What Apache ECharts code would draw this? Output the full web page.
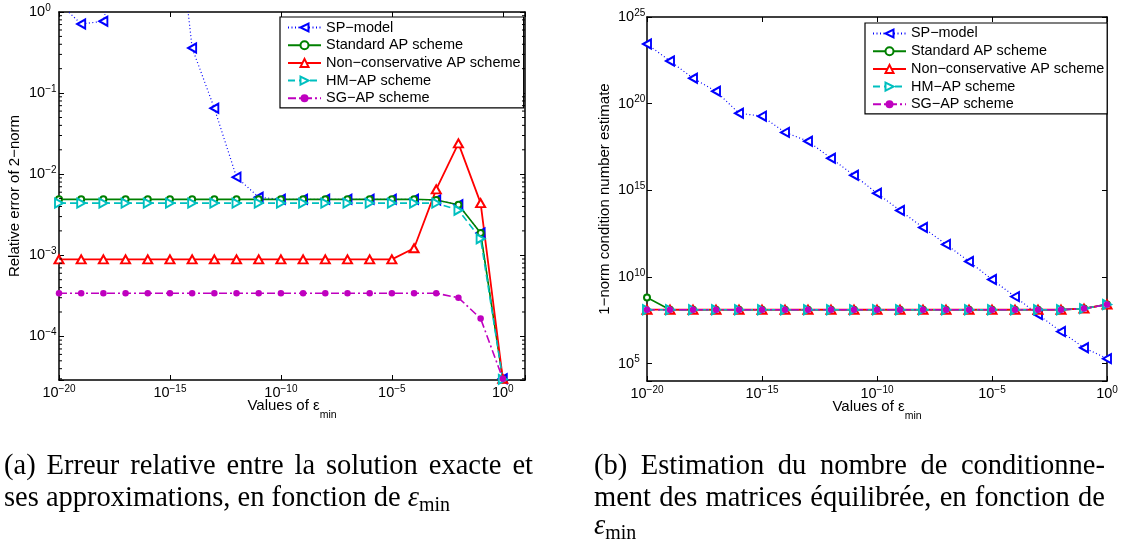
<!DOCTYPE html>
<html><head><meta charset="utf-8">
<script src="https://cdn.jsdelivr.net/npm/echarts@6/dist/echarts.min.js"></script>
<style>
html,body{margin:0;padding:0;background:#fff;}
#chart{position:absolute;left:0;top:0;width:1124px;height:540px;}
.cap{position:absolute;font-family:"Liberation Serif",serif;font-size:28.5px;line-height:32px;color:#000;}
.cap div{white-space:nowrap;text-align:justify;text-align-last:justify;}
.cap div.last{text-align:left;text-align-last:left;}
.cap sub{font-size:0.7em;vertical-align:-0.25em;line-height:0;}
</style></head><body>
<div id="chart"></div>
<div class="cap" style="left:4px;top:449px;width:529px;">
  <div>(a) Erreur relative entre la solution exacte et</div>
  <div class="last">ses approximations, en fonction de <i>ε</i><sub>min</sub></div>
</div>
<div class="cap" style="left:594px;top:449px;width:511px;">
  <div>(b) Estimation du nombre de conditionne-</div>
  <div>ment des matrices équilibrée, en fonction de</div>
  <div class="last" style="margin-top:-4px"><i>ε</i><sub>min</sub></div>
</div>
<script>
// ---- data ----
const xValues = [1e-20,1e-19,1e-18,1e-17,1e-16,1e-15,1e-14,1e-13,1e-12,1e-11,1e-10,1e-9,1e-8,1e-7,1e-6,1e-5,1e-4,1e-3,1e-2,1e-1,1];
const seriesNames = ['SP\u2212model','Standard AP scheme','Non\u2212conservative AP scheme','HM\u2212AP scheme','SG\u2212AP scheme'];
// (a) relative error of 2-norm
const errSP  = [1.3,0.71,0.77,13,50,100,0.36,0.065,0.0092,0.0052,0.0049,0.0049,0.0049,0.0049,0.0049,0.0049,0.0049,0.0048,0.0042,0.00188,3.0e-5];
const errStd = [0.0049,0.0049,0.0049,0.0049,0.0049,0.0049,0.0049,0.0049,0.0049,0.0049,0.0049,0.0049,0.0049,0.0049,0.0049,0.0049,0.0049,0.0048,0.0042,0.00188,2.95e-5];
const errNC  = [0.00089,0.00089,0.00089,0.00089,0.00089,0.00089,0.00089,0.00089,0.00089,0.00089,0.00089,0.00089,0.00089,0.00089,0.00089,0.00089,0.00122,0.0065,0.024,0.0044,3.0e-5];
const errHM  = [0.0044,0.0044,0.0044,0.0044,0.0044,0.0044,0.0044,0.0044,0.0044,0.0044,0.0044,0.0044,0.0044,0.0044,0.0044,0.0044,0.0044,0.0044,0.0036,0.0016,2.95e-5];
const errSG  = [0.00034,0.00034,0.00034,0.00034,0.00034,0.00034,0.00034,0.00034,0.00034,0.00034,0.00034,0.00034,0.00034,0.00034,0.00034,0.00034,0.00034,0.00034,0.0003,0.000166,3.0e-5];
// (b) 1-norm condition number estimate
const condSP  = [2.75e23,2.9e22,2.95e21,5.2e20,2.8e19,1.9e19,2.2e18,6.8e17,7.1e16,7.4e15,6.8e14,6.9e13,7.2e12,7.6e11,7.9e10,7.2e9,7.4e8,6.8e7,7.1e6,8.3e5,1.95e5];
const condStd = [6.6e8,1.3e8,1.3e8,1.3e8,1.3e8,1.3e8,1.3e8,1.3e8,1.3e8,1.3e8,1.3e8,1.3e8,1.3e8,1.3e8,1.3e8,1.3e8,1.3e8,1.3e8,1.3e8,1.5e8,2.6e8];
const condNC  = [1.3e8,1.3e8,1.3e8,1.3e8,1.3e8,1.3e8,1.3e8,1.3e8,1.3e8,1.3e8,1.3e8,1.3e8,1.3e8,1.3e8,1.3e8,1.3e8,1.3e8,1.3e8,1.3e8,1.5e8,2.6e8];
const condHM  = [1.3e8,1.3e8,1.3e8,1.3e8,1.3e8,1.3e8,1.3e8,1.3e8,1.3e8,1.3e8,1.3e8,1.3e8,1.3e8,1.3e8,1.3e8,1.3e8,1.3e8,1.3e8,1.3e8,1.5e8,2.6e8];
const condSG  = [1.3e8,1.3e8,1.3e8,1.3e8,1.3e8,1.3e8,1.3e8,1.3e8,1.3e8,1.3e8,1.3e8,1.3e8,1.3e8,1.3e8,1.3e8,1.3e8,1.3e8,1.3e8,1.3e8,1.5e8,2.6e8];
// axis extents (powers of ten)
const errXRange = [1e-20, 10];
const errYRange = [2.9e-5, 1];
const condXRange = [1e-20, 1];
const condYRange = [1e4, 1e25];
// minor ticks of the (a) y axis
const errMinorTicks = [];
for (let e = -5; e <= -1; e++) for (let m = 2; m <= 9; m++) { const v = m * Math.pow(10, e); if (v > errYRange[0]) errMinorTicks.push(v); }

// ---- styling ----
const FONT = 'Liberation Sans';
const C = {sp:'#0000ff', std:'#008000', nc:'#ff0000', hm:'#00bfbf', sg:'#bf00bf'};
const rich = {
  b:{fontSize:14.5, fontFamily:FONT, color:'#000'},
  s:{fontSize:10, fontFamily:FONT, color:'#000', padding:[0,0,8,0]}
};
function pow10Label(step){
  return function(v){
    const r = Math.round(v);
    if (Math.abs(v - r) > 1e-6 || r % step !== 0) return '';
    return '{b|10}{s|' + (r < 0 ? '\u2212' + (-r) : r) + '}';
  };
}
const lg = Math.log10;

function frameAxis(extra){
  return Object.assign({
    type:'value', splitLine:{show:false}, nameMoveOverlap:false,
    axisLine:{show:true, onZero:false, lineStyle:{color:'#000', width:1.5}},
    axisTick:{show:true, inside:true, length:5, lineStyle:{color:'#000', width:1}},
    axisLabel:{show:false}
  }, extra);
}

function makeSeries(gi, arrs){
  const xi = gi*3, yi = gi*3;
  const pairs = a => xValues.map((x,i)=>[x, a[i]]);
  return [
    {name:seriesNames[0], type:'line', xAxisIndex:xi, yAxisIndex:yi, data:pairs(arrs[0]),
     symbol:'emptyTriangle', symbolRotate:90, symbolSize:[9,8],
     lineStyle:{color:C.sp, width:1.2, type:[1,2.5]}, itemStyle:{color:C.sp, borderWidth:1.6}},
    {name:seriesNames[1], type:'line', xAxisIndex:xi, yAxisIndex:yi, data:pairs(arrs[1]),
     symbol:'emptyCircle', symbolSize:6,
     lineStyle:{color:C.std, width:1.6}, itemStyle:{color:C.std, borderWidth:1.5}},
    {name:seriesNames[2], type:'line', xAxisIndex:xi, yAxisIndex:yi, data:pairs(arrs[2]),
     symbol:'emptyTriangle', symbolSize:[9,8],
     lineStyle:{color:C.nc, width:1.8}, itemStyle:{color:C.nc, borderWidth:1.6}},
    {name:seriesNames[3], type:'line', xAxisIndex:xi, yAxisIndex:yi, data:pairs(arrs[3]),
     symbol:'emptyTriangle', symbolRotate:-90, symbolSize:[9,8],
     lineStyle:{color:C.hm, width:1.6, type:[7,4]}, itemStyle:{color:C.hm, borderWidth:1.6}},
    {name:seriesNames[4], type:'line', xAxisIndex:xi, yAxisIndex:yi, data:pairs(arrs[4]),
     symbol:'circle', symbolSize:6.5,
     lineStyle:{color:C.sg, width:1.6, type:[8,3,2,3]}, itemStyle:{color:C.sg}}
  ].map(s=>Object.assign(s,{animation:false, z:3}));
}

const nameStyle = {fontSize:15, fontFamily:FONT, color:'#000'};
const xName = '{t|Values of \u03b5}{m|min}';
const xNameStyle = {rich:{t:{fontSize:15, fontFamily:FONT, color:'#000'}, m:{fontSize:10.5, fontFamily:FONT, color:'#000', padding:[20,0,0,0]}}};

const legendBase = {
  orient:'vertical', data:seriesNames, itemWidth:33, itemHeight:10, itemGap:0.7,
  backgroundColor:'#fff', borderColor:'#000', borderWidth:1.2, borderRadius:0,
  padding:[2,3,1,7], selectedMode:false,
  textStyle:{fontFamily:FONT, fontSize:14.5, color:'#000', lineHeight:17}
};

const option = {
  animation:false,
  backgroundColor:'#fff',
  grid:[
    {left:59, top:12, width:466, height:368, containLabel:false},
    {left:647, top:17, width:460, height:364, containLabel:false}
  ],
  xAxis:[
    {type:'log', logBase:10, gridIndex:0, min:errXRange[0], max:errXRange[1], show:false},
    frameAxis({gridIndex:0, position:'bottom', min:lg(errXRange[0]), max:lg(errXRange[1]), interval:5,
      axisLabel:{show:true, margin:4, formatter:pow10Label(5), rich:rich},
      name:xName, nameLocation:'middle', nameGap:10, nameTextStyle:xNameStyle}),
    frameAxis({gridIndex:0, position:'top', min:lg(errXRange[0]), max:lg(errXRange[1]), interval:5}),
    {type:'log', logBase:10, gridIndex:1, min:condXRange[0], max:condXRange[1], show:false},
    frameAxis({gridIndex:1, position:'bottom', min:lg(condXRange[0]), max:lg(condXRange[1]), interval:5,
      axisLabel:{show:true, margin:4, formatter:pow10Label(5), rich:rich},
      name:xName, nameLocation:'middle', nameGap:10, nameTextStyle:xNameStyle}),
    frameAxis({gridIndex:1, position:'top', min:lg(condXRange[0]), max:lg(condXRange[1]), interval:5})
  ],
  yAxis:[
    {type:'log', logBase:10, gridIndex:0, min:errYRange[0], max:errYRange[1], show:false},
    frameAxis({gridIndex:0, position:'left', min:lg(errYRange[0]), max:lg(errYRange[1]), splitNumber:5, minInterval:1, maxInterval:1,
      axisLabel:{show:true, margin:30, align:'left', formatter:pow10Label(1), rich:rich},
      name:'Relative error of 2\u2212norm', nameLocation:'middle', nameGap:36.5, nameTextStyle:nameStyle}),
    frameAxis({gridIndex:0, position:'right', min:lg(errYRange[0]), max:lg(errYRange[1]), splitNumber:5, minInterval:1, maxInterval:1}),
    {type:'log', logBase:10, gridIndex:1, min:condYRange[0], max:condYRange[1], show:false},
    frameAxis({gridIndex:1, position:'left', min:lg(condYRange[0]), max:lg(condYRange[1]), splitNumber:5, minInterval:5, maxInterval:5,
      axisLabel:{show:true, margin:29, align:'left', formatter:pow10Label(5), rich:rich},
      name:'1\u2212norm condition number estimate', nameLocation:'middle', nameGap:34.5, nameTextStyle:nameStyle}),
    frameAxis({gridIndex:1, position:'right', min:lg(condYRange[0]), max:lg(condYRange[1]), splitNumber:5, minInterval:5, maxInterval:5})
  ],
  legend:[
    Object.assign({left:280, top:17}, legendBase),
    Object.assign({left:865, top:23}, legendBase, {textStyle:Object.assign({}, legendBase.textStyle, {fontSize:14.4})})
  ],
  series:[].concat(
    makeSeries(0, [errSP, errStd, errNC, errHM, errSG]),
    makeSeries(1, [condSP, condStd, condNC, condHM, condSG]),
    [{
      type:'custom', xAxisIndex:0, yAxisIndex:0, silent:true, z:4,
      data: errMinorTicks.map(v=>[errXRange[0], v]),
      renderItem:function(params, api){
        const v = api.value(1);
        const p = api.coord([errXRange[0], v]);
        const q = api.coord([errXRange[1], v]);
        return {type:'group', children:[
          {type:'line', shape:{x1:p[0], y1:p[1], x2:p[0]+3, y2:p[1]}, style:{stroke:'#000', lineWidth:1}},
          {type:'line', shape:{x1:q[0]-3, y1:q[1], x2:q[0], y2:q[1]}, style:{stroke:'#000', lineWidth:1}}
        ]};
      }
    }]
  )
};
const chart = echarts.init(document.getElementById('chart'), null, {renderer:'canvas'});
chart.setOption(option);
</script>
</body></html>
